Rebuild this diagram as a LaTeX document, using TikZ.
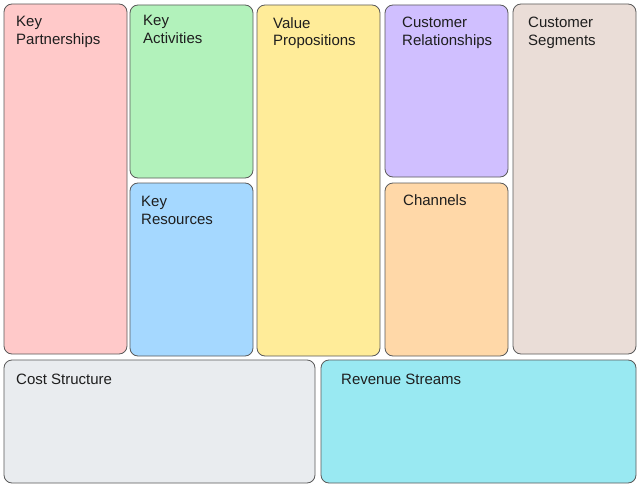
\documentclass[tikz,border=0pt]{standalone}
\usepackage{fontspec}
\setmainfont{Liberation Sans}
\definecolor{cpink}{HTML}{FFC9C9}
\definecolor{cgreen}{HTML}{B2F2BB}
\definecolor{cblue}{HTML}{A5D8FF}
\definecolor{cyellow}{HTML}{FFEC99}
\definecolor{cviolet}{HTML}{D0BFFF}
\definecolor{corange}{HTML}{FFD8A8}
\definecolor{cbrown}{HTML}{EADDD7}
\definecolor{cgray}{HTML}{E9ECEF}
\definecolor{ccyan}{HTML}{99E9F2}
\definecolor{cstroke}{HTML}{5A5A5A}
\definecolor{ctext}{HTML}{1E1E1E}
\tikzset{
  card/.style={draw=cstroke, line width=0.8pt, rounded corners=8pt},
  lbl/.style={anchor=north west, inner sep=0pt, align=left, text=ctext,
    font=\fontsize{15}{17.5}\selectfont}
}
\begin{document}
\begin{tikzpicture}[x=1pt,y=-1pt]
\fill[white] (0,0) rectangle (640,487);
\useasboundingbox (0,0) rectangle (640,487);
% cards
\draw[card, fill=cpink]   (4,4)   rectangle (127,354);
\draw[card, fill=cgreen]  (130,5) rectangle (253,178);
\draw[card, fill=cblue]   (130,183) rectangle (253,356);
\draw[card, fill=cyellow] (257,5) rectangle (380,356);
\draw[card, fill=cviolet] (385,5) rectangle (508,177);
\draw[card, fill=corange] (385,183) rectangle (508,356);
\draw[card, fill=cbrown]  (513,4) rectangle (636,354);
\draw[card, fill=cgray]   (4,360) rectangle (315,483);
\draw[card, fill=ccyan]   (321,360) rectangle (636,483);
% labels
\node[lbl] (kp) at (16,16)  {Key\\Partnerships};
\node[lbl] (ka) at (143,15) {Key\\Activities};
\node[lbl] (kr) at (141,196) {Key\\Resources};
\node[lbl] (vp) at (273,17) {Value\\Propositions};
\node[lbl] (cr) at (402,17) {Customer\\Relationships};
\node[lbl] (ch) at (403,194) {Channels};
\node[lbl] (cs) at (528,17) {Customer\\Segments};
\node[lbl] (cst) at (16,374) {Cost Structure};
\node[lbl] (rev) at (341,374) {Revenue Streams};
\end{tikzpicture}
\end{document}
